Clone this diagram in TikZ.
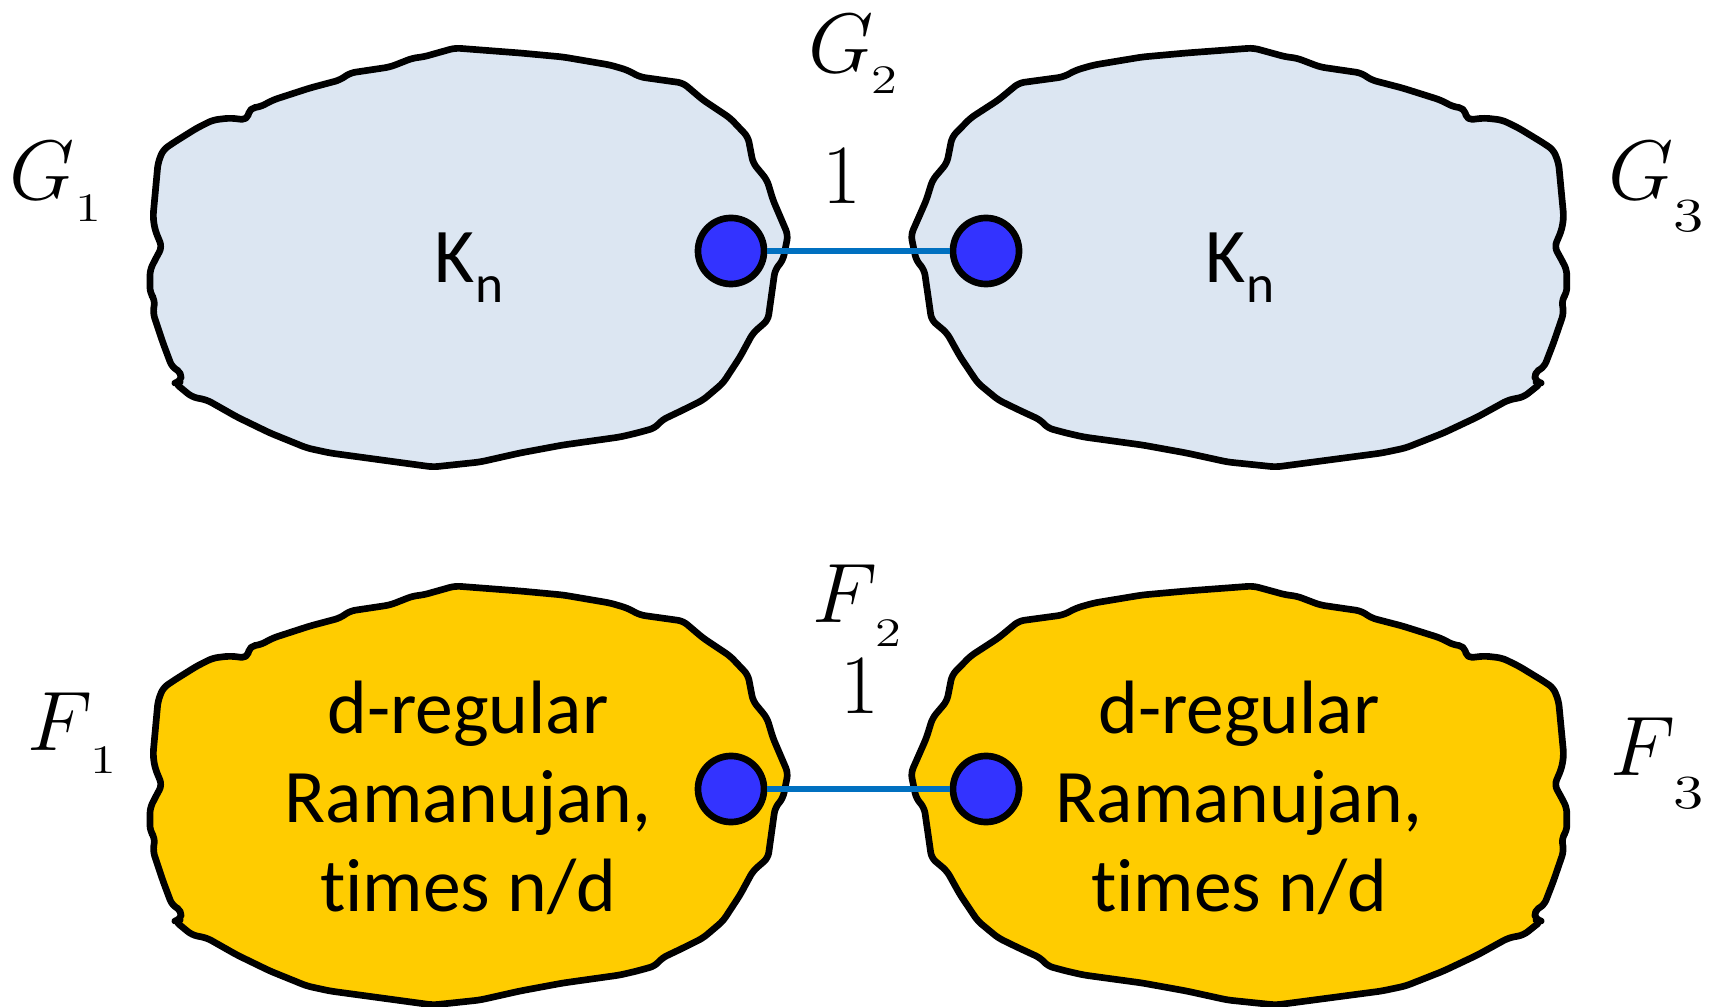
\RequirePackage{fix-cm}
\documentclass[tikz,border=0pt]{standalone}
\usepackage{fontspec}
\newfontfamily\carlito[Ligatures=NoCommon]{Carlito}
\usetikzlibrary{positioning}
\definecolor{BlobBlue}{HTML}{DCE6F2}
\definecolor{BlobGold}{HTML}{FFCC00}
\definecolor{Vertex}{HTML}{3333FF}
\definecolor{LinkBlue}{HTML}{0070C0}
% kern, drop, size, text of a lowered index
\newcommand{\lowsub}[4]{\kern#1\raisebox{-#2}{\fontsize{#3}{#3}\selectfont #4}}
\newcommand{\widesub}[4]{\kern#1\raisebox{-#2}{\scalebox{1.3}[1]{\fontsize{#3}{#3}\selectfont #4}}}
\tikzset{
  blob/.style={draw=black,line width=1.9pt,line join=round,rounded corners=1.5pt},
  blobshape/.style={insert path={(455,48) -- (520,53) -- (563,57) -- (610,65) -- (627,70) -- (640,77)
    -- (683,83) -- (703,100) -- (730,118) -- (748,137) -- (753,163) -- (767,180) -- (773,200)
    -- (788,235) -- (783,260) -- (775,270) -- (768,320) -- (753,333) -- (740,357) -- (723,383)
    -- (703,400) -- (683,410) -- (662,420) -- (655,428) -- (637,433) -- (620,437) -- (563,445)
    -- (520,453) -- (480,462) -- (433,467) -- (330,453) -- (307,448) -- (270,433) -- (237,417)
    -- (207,400) -- (192,397) -- (175,383) -- (180,382) -- (182,373) -- (172,367) -- (163,343)
    -- (153,313) -- (155,300) -- (150,293) -- (150,270) -- (155,260) -- (162,247) -- (155,230)
    -- (153,217) -- (158,163) -- (163,150) -- (173,143) -- (197,128) -- (213,120) -- (230,118)
    -- (247,120) -- (250,108) -- (260,107) -- (273,100) -- (310,88) -- (340,80) -- (350,73)
    -- (390,67) -- (413,58) -- (423,57) -- cycle}},
  vertex/.style={circle,draw=black,line width=1.9pt,fill=Vertex,minimum size=0.66cm,inner sep=0pt},
  link/.style={draw=LinkBlue,line width=1.6pt},
  glabel/.style={anchor=base west,inner sep=0pt,font=\fontsize{24}{24}\selectfont},
  weight/.style={anchor=base,inner sep=0pt,font=\fontsize{24}{24}\selectfont},
  kn/.style={anchor=base,inner sep=0pt,font=\carlito\fontsize{22}{22}\selectfont},
  inside/.style={align=center,inner sep=0pt,font=\carlito\fontsize{21.5}{25.3}\selectfont}
}

\begin{document}
\begin{tikzpicture}[x=0.01cm,y=-0.01cm]
  \useasboundingbox (0,0) rectangle (1713,1007);
  % blobs: left one traced, right one mirrored
  \foreach \dy/\tint in {0/BlobBlue,538/BlobGold}{
    \begin{scope}[shift={(0,\dy)}]
      \path[blob,fill=\tint,blobshape];
    \end{scope}
    \begin{scope}[shift={(1721,\dy)},xscale=-1.028]
      \path[blob,fill=\tint,blobshape];
    \end{scope}
  }
  \node[vertex] (gl) at (731,251) {};
  \node[vertex] (gr) at (986,251) {};
  \node[vertex] (fl) at (731,789) {};
  \node[vertex] (fr) at (986,789) {};
  \draw[link] (gl) -- (gr);
  \draw[link] (fl) -- (fr);
  \node[kn] (knl) at (469,283) {K\lowsub{0.01cm}{0.19cm}{15.2}{n}};
  \node[kn] (knr) at (1240,283) {K\lowsub{0.01cm}{0.19cm}{15.2}{n}};
  \node[inside] (ramal) at (468,798) {d-regular\\Ramanujan,\\times n/d};
  \node[inside] (ramar) at (1239,798) {d-regular\\Ramanujan,\\times n/d};
  \node[glabel] (g1) at (9,200) {$G$\widesub{0.01cm}{0.21cm}{11.5}{1}};
  \node[glabel] (g2) at (808,73) {$G$\widesub{-0.02cm}{0.21cm}{11.5}{2}};
  \node[glabel] (g3) at (1608,200) {$G$\widesub{0cm}{0.31cm}{13.5}{3}};
  \node[glabel] (f1) at (27,750) {$F$\widesub{-0.02cm}{0.23cm}{11.5}{1}};
  \node[glabel] (f2) at (812,623) {$F$\widesub{-0.02cm}{0.23cm}{11.5}{2}};
  \node[glabel] (f3) at (1610,775) {$F$\widesub{-0.02cm}{0.33cm}{13.5}{3}};
  \node[weight] (gw) at (842,204) {1};
  \node[weight] (fw) at (860,713) {1};
\end{tikzpicture}
\end{document}
